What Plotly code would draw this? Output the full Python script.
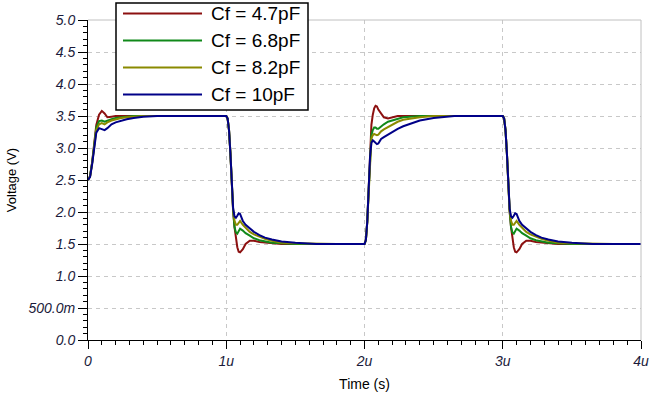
import plotly.graph_objects as go

# ---- data (time in microseconds, voltage in volts) ----
time_us = [0, 0.015, 0.03, 0.045, 0.06, 0.08, 0.10, 0.12, 0.14, 0.17, 0.20, 0.24, 0.28, 0.33, 0.40, 0.50, 0.65, 0.80, 1.00,
           1.01, 1.02, 1.03, 1.04, 1.05, 1.06, 1.07, 1.08, 1.09, 1.10, 1.12, 1.14, 1.17, 1.20, 1.24, 1.28, 1.33, 1.40, 1.50, 1.65, 1.80, 2.00,
           2.01, 2.02, 2.03, 2.04, 2.05, 2.06, 2.07, 2.08, 2.09, 2.10, 2.12, 2.14, 2.17, 2.20, 2.24, 2.28, 2.33, 2.40, 2.50, 2.65, 2.80, 3.00,
           3.01, 3.02, 3.03, 3.04, 3.05, 3.06, 3.07, 3.08, 3.09, 3.10, 3.12, 3.14, 3.17, 3.20, 3.24, 3.28, 3.33, 3.40, 3.50, 3.65, 3.80, 4.00]

v_4p7 = [2.50, 2.56, 2.78, 3.08, 3.36, 3.52, 3.58, 3.54, 3.48, 3.49, 3.50, 3.50, 3.50, 3.50, 3.50, 3.50, 3.50, 3.50, 3.50,
         3.46, 3.28, 2.92, 2.42, 2.00, 1.76, 1.57, 1.45, 1.38, 1.37, 1.42, 1.50, 1.55, 1.55, 1.53, 1.52, 1.51, 1.50, 1.50, 1.50, 1.50, 1.50,
         1.56, 1.85, 2.35, 2.92, 3.36, 3.52, 3.62, 3.66, 3.65, 3.60, 3.53, 3.48, 3.46, 3.48, 3.50, 3.50, 3.50, 3.50, 3.50, 3.50, 3.50, 3.50,
         3.46, 3.28, 2.92, 2.42, 2.00, 1.76, 1.57, 1.45, 1.38, 1.37, 1.42, 1.50, 1.55, 1.55, 1.53, 1.52, 1.51, 1.50, 1.50, 1.50, 1.50, 1.50]

v_6p8 = [2.50, 2.56, 2.77, 3.06, 3.32, 3.42, 3.43, 3.41, 3.43, 3.45, 3.47, 3.48, 3.49, 3.50, 3.50, 3.50, 3.50, 3.50, 3.50,
         3.46, 3.28, 2.92, 2.42, 2.02, 1.76, 1.68, 1.66, 1.70, 1.74, 1.71, 1.67, 1.63, 1.59, 1.56, 1.54, 1.52, 1.51, 1.50, 1.50, 1.50, 1.50,
         1.56, 1.85, 2.35, 2.90, 3.20, 3.28, 3.32, 3.32, 3.30, 3.30, 3.34, 3.37, 3.41, 3.43, 3.46, 3.48, 3.49, 3.50, 3.50, 3.50, 3.50, 3.50,
         3.46, 3.28, 2.92, 2.42, 2.02, 1.76, 1.68, 1.66, 1.70, 1.74, 1.71, 1.67, 1.63, 1.59, 1.56, 1.54, 1.52, 1.51, 1.50, 1.50, 1.50, 1.50]

v_8p2 = [2.50, 2.56, 2.76, 3.04, 3.28, 3.37, 3.39, 3.37, 3.40, 3.43, 3.45, 3.47, 3.48, 3.49, 3.50, 3.50, 3.50, 3.50, 3.50,
         3.46, 3.28, 2.92, 2.42, 2.03, 1.86, 1.80, 1.80, 1.84, 1.86, 1.80, 1.75, 1.69, 1.65, 1.61, 1.58, 1.55, 1.52, 1.51, 1.50, 1.50, 1.50,
         1.56, 1.85, 2.35, 2.88, 3.15, 3.20, 3.22, 3.21, 3.20, 3.21, 3.26, 3.29, 3.33, 3.37, 3.41, 3.44, 3.46, 3.48, 3.50, 3.50, 3.50, 3.50,
         3.46, 3.28, 2.92, 2.42, 2.03, 1.86, 1.80, 1.80, 1.84, 1.86, 1.80, 1.75, 1.69, 1.65, 1.61, 1.58, 1.55, 1.52, 1.51, 1.50, 1.50, 1.50]

v_10 = [2.50, 2.55, 2.75, 3.02, 3.24, 3.31, 3.29, 3.28, 3.31, 3.37, 3.40, 3.43, 3.45, 3.47, 3.49, 3.50, 3.50, 3.50, 3.50,
        3.46, 3.28, 2.92, 2.42, 2.05, 1.93, 1.91, 1.94, 1.98, 1.97, 1.86, 1.80, 1.75, 1.69, 1.64, 1.60, 1.57, 1.54, 1.52, 1.50, 1.50, 1.50,
        1.56, 1.85, 2.35, 2.86, 3.08, 3.12, 3.10, 3.07, 3.06, 3.07, 3.14, 3.17, 3.21, 3.25, 3.30, 3.34, 3.38, 3.43, 3.47, 3.50, 3.50, 3.50,
        3.46, 3.28, 2.92, 2.42, 2.05, 1.93, 1.91, 1.94, 1.98, 1.97, 1.86, 1.80, 1.75, 1.69, 1.64, 1.60, 1.57, 1.54, 1.52, 1.50, 1.50, 1.50]

series_names = ["Cf = 4.7pF", "Cf = 6.8pF", "Cf = 8.2pF", "Cf = 10pF"]
series_values = [v_4p7, v_6p8, v_8p2, v_10]
series_colors = ["#8c1010", "#10891a", "#8a8a00", "#000088"]

x_tick_vals = [0, 1, 2, 3, 4]
x_tick_text = ["0", "1u", "2u", "3u", "4u"]
y_tick_vals = [0, 0.5, 1, 1.5, 2, 2.5, 3, 3.5, 4, 4.5, 5]
y_tick_text = ["0.0", "500.0m", "1.0", "1.5", "2.0", "2.5", "3.0", "3.5", "4.0", "4.5", "5.0"]

# ---- figure ----
W, H = 650, 397
ML, MR, MT, MB = 88, 9, 20, 57
PW, PH = W - ML - MR, H - MT - MB

fig = go.Figure()
for name, vals, col in zip(series_names, series_values, series_colors):
    fig.add_trace(go.Scatter(x=time_us, y=vals, mode="lines", name=name,
                             line=dict(color=col, width=2), showlegend=False))

tickfont = dict(family="Liberation Sans", size=14, color="#1a1a3a", style="italic")
grid = dict(showgrid=True, gridcolor="#c8c8c8", griddash="4px,4px", gridwidth=1)

fig.update_xaxes(range=[0, 4], tickvals=x_tick_vals, ticktext=x_tick_text,
                 ticks="outside", ticklen=8, tickcolor="black", tickwidth=1,
                 minor=dict(dtick=0.1, ticks="outside", ticklen=4, tickcolor="black", showgrid=False),
                 showline=True, linecolor="black", linewidth=1, zeroline=False,
                 tickfont=tickfont,
                 title=dict(text="Time (s)", font=dict(family="Liberation Sans", size=14, color="black"), standoff=11),
                 **grid)
fig.update_yaxes(range=[0, 5], tickvals=y_tick_vals, ticktext=y_tick_text,
                 ticks="outside", ticklen=9, tickcolor="black", tickwidth=1,
                 minor=dict(dtick=0.1, ticks="outside", ticklen=4, tickcolor="black", showgrid=False),
                 showline=True, linecolor="black", linewidth=1, zeroline=False,
                 tickfont=tickfont,
                 title=dict(text="Voltage (V)", font=dict(family="Liberation Sans", size=13, color="black"), standoff=8),
                 **grid)

# frame top/right (light gray)
fig.add_shape(type="line", xref="paper", yref="paper", x0=0, x1=1, y0=1, y1=1, line=dict(color="#c0c0c0", width=1))
fig.add_shape(type="line", xref="paper", yref="paper", x0=1, x1=1, y0=0, y1=1, line=dict(color="#c0c0c0", width=1))

# manual legend, positioned from window pixels
def px(xp):
    return (xp - ML) / PW

def py(yp):
    return ((MT + PH) - yp) / PH

fig.add_shape(type="rect", xref="paper", yref="paper", x0=px(116), x1=px(308), y0=py(110), y1=py(3),
              fillcolor="white", line=dict(color="black", width=1.5), layer="above")
row_y = [13.5, 40.5, 67.5, 94.5]
for name, col, ry in zip(series_names, series_colors, row_y):
    fig.add_shape(type="line", xref="paper", yref="paper", x0=px(123), x1=px(202), y0=py(ry), y1=py(ry),
                  line=dict(color=col, width=2), layer="above")
    fig.add_annotation(xref="paper", yref="paper", x=px(209), y=py(ry), text=name, showarrow=False,
                       xanchor="left", yanchor="middle",
                       font=dict(family="Liberation Sans", size=19, color="black"))

fig.update_layout(width=W, height=H, margin=dict(l=ML, r=MR, t=MT, b=MB, autoexpand=False),
                  plot_bgcolor="white", paper_bgcolor="white")

# remove the browser's default 8px page margin so the figure fills the window
fig.write_html("out.html", config={"displayModeBar": False},
               post_script="document.body.style.margin='0';document.body.style.overflow='hidden';")
